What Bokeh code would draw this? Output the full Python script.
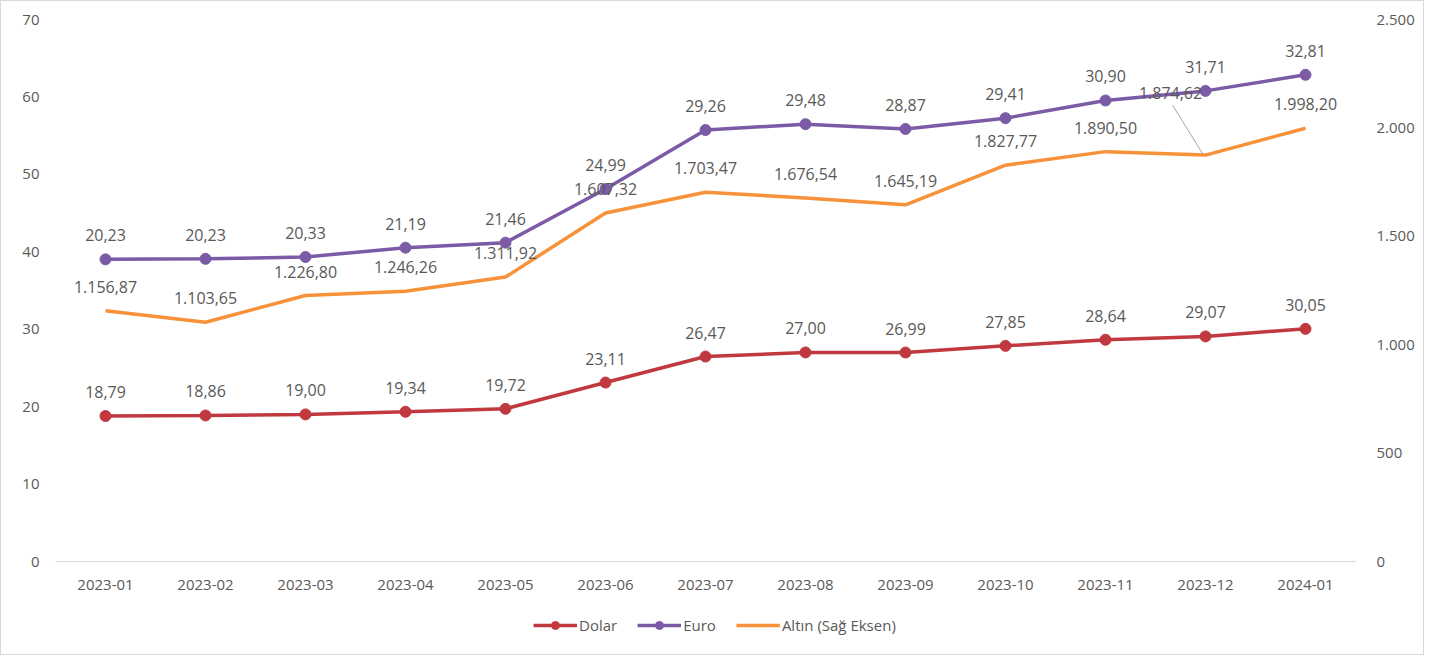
from bokeh.plotting import figure
from bokeh.layouts import column
from bokeh.models import (Range1d, LinearAxis, FixedTicker, ColumnDataSource,
                          Legend, LegendItem)
from bokeh.core.properties import value
from bokeh.embed import file_html
from bokeh.resources import INLINE

# ---------------- data ----------------
categories = ["2023-01", "2023-02", "2023-03", "2023-04", "2023-05", "2023-06",
              "2023-07", "2023-08", "2023-09", "2023-10", "2023-11", "2023-12",
              "2024-01"]
dolar = [18.79, 18.86, 19.00, 19.34, 19.72, 23.11, 26.47, 27.00, 26.99, 27.85,
         28.64, 29.07, 30.05]
euro = [20.23, 20.23, 20.33, 21.19, 21.46, 24.99, 29.26, 29.48, 28.87, 29.41,
        30.90, 31.71, 32.81]
altin = [1156.87, 1103.65, 1226.80, 1246.26, 1311.92, 1607.32, 1703.47,
         1676.54, 1645.19, 1827.77, 1890.50, 1874.62, 1998.20]
left_ticks = [0, 10, 20, 30, 40, 50, 60, 70]
right_ticks = [0, 500, 1000, 1500, 2000, 2500]
series_names = ["Dolar", "Euro", "Altın (Sağ Eksen)"]

# ---------------- style ----------------
RED = "#C0393F"
PURPLE = "#7B5BA6"
ORANGE = "#F7923A"
TXT = "#595959"
FONT = value("Open Sans")

W, H = 1422, 600
LEG_H = 53
ML, MR, MT, MB = 54, 68, 18, 40
FRAME_H = H - MT - MB
FRAME_W = W - ML - MR
PX_PER_CAT = FRAME_W / len(categories)


def tr(v, dec=2):
    s = f"{v:,.{dec}f}"
    return s.replace(",", "X").replace(".", ",").replace("X", ".")


def tr_int(v):
    return f"{int(v):,}".replace(",", ".")


euro_stacked = [d + e for d, e in zip(dolar, euro)]

p = figure(width=W, height=H, x_range=categories, y_range=Range1d(0, 70),
           output_backend="svg", toolbar_location=None,
           min_border_left=ML, min_border_right=MR, min_border_top=MT,
           min_border_bottom=MB, background_fill_color="white",
           border_fill_color="white", outline_line_color=None)
p.extra_y_ranges = {"right": Range1d(0, 2500)}

p.xgrid.visible = False
p.ygrid.visible = False

# left axis
ya = p.yaxis[0]
ya.ticker = FixedTicker(ticks=left_ticks)
ya.axis_line_color = None
ya.major_tick_line_color = None
ya.minor_tick_line_color = None
ya.major_label_text_font = "Open Sans"
ya.major_label_text_font_size = "15px"
ya.major_label_text_color = TXT
ya.major_label_standoff = 10

# right axis
ra = LinearAxis(y_range_name="right", ticker=FixedTicker(ticks=right_ticks))
ra.major_label_overrides = {t: tr_int(t) for t in right_ticks}
ra.axis_line_color = None
ra.major_tick_line_color = None
ra.minor_tick_line_color = None
ra.major_label_text_font = "Open Sans"
ra.major_label_text_font_size = "15px"
ra.major_label_text_color = TXT
ra.major_label_standoff = 15
p.add_layout(ra, "right")

# x axis
xa = p.xaxis[0]
xa.axis_line_color = "#d9d9d9"
xa.axis_line_width = 1
xa.major_tick_line_color = None
xa.minor_tick_line_color = None
xa.major_label_text_font = "Open Sans"
xa.major_label_text_font_size = "15px"
xa.major_label_text_color = TXT
xa.major_label_standoff = 12

# lines
line_kw = dict(line_width=3.5)
gl = p.line(categories, altin, y_range_name="right", line_color=ORANGE,
            **line_kw)
dl = p.line(categories, dolar, line_color=RED, **line_kw)
ds = p.scatter(categories, dolar, size=11, fill_color=RED, line_color=RED)
el = p.line(categories, euro_stacked, line_color=PURPLE, **line_kw)
es = p.scatter(categories, euro_stacked, size=11, fill_color=PURPLE,
               line_color=PURPLE)

# label offsets (screen px)
n = len(categories)
dx_default = [0] * n
dy_default = [-24] * n
gold_dx = list(dx_default)
gold_dy = list(dy_default)
i_moved = categories.index("2023-12")
gold_dx[i_moved] = -35
gold_dy[i_moved] = -62

lbl_kw = dict(text_align="center", text_baseline="middle", text_font=FONT,
              text_font_size="16px", text_color=TXT)

src_d = ColumnDataSource(dict(x=categories, y=dolar, t=[tr(v) for v in dolar],
                              dx=dx_default, dy=dy_default))
src_e = ColumnDataSource(dict(x=categories, y=euro_stacked,
                              t=[tr(v) for v in euro], dx=dx_default,
                              dy=dy_default))
src_g = ColumnDataSource(dict(x=categories, y=altin, t=[tr(v) for v in altin],
                              dx=gold_dx, dy=gold_dy))

# leader line for moved gold label
units_per_px = 2500 / FRAME_H
xc = i_moved + 0.5
p.segment(x0=[xc - 33 / PX_PER_CAT], y0=[altin[i_moved] + 50 * units_per_px],
          x1=[xc - 2 / PX_PER_CAT], y1=[altin[i_moved]], y_range_name="right",
          line_color="#a6a6a6", line_width=1)

p.text(x="x", y="y", text="t", x_offset="dx", y_offset="dy", source=src_d,
       **lbl_kw)
p.text(x="x", y="y", text="t", x_offset="dx", y_offset="dy", source=src_g,
       y_range_name="right", **lbl_kw)
p.text(x="x", y="y", text="t", x_offset="dx", y_offset="dy", source=src_e,
       **lbl_kw)

# ---------------- legend strip ----------------
lf = figure(width=W, height=LEG_H, x_range=Range1d(0, 1), y_range=Range1d(0, 1),
            output_backend="svg", toolbar_location=None, min_border=0,
            outline_line_color=None, background_fill_color="white",
            border_fill_color="white")
lf.axis.visible = False
lf.grid.visible = False
# legend proxies, placed outside the visible range of the strip
px, py = [9], [9]
l_dl = lf.line(px, py, line_color=RED, **line_kw)
l_ds = lf.scatter(px, py, size=11, fill_color=RED, line_color=RED)
l_el = lf.line(px, py, line_color=PURPLE, **line_kw)
l_es = lf.scatter(px, py, size=11, fill_color=PURPLE, line_color=PURPLE)
l_gl = lf.line(px, py, line_color=ORANGE, **line_kw)

legend = Legend(items=[LegendItem(label=series_names[0], renderers=[l_dl, l_ds]),
                       LegendItem(label=series_names[1], renderers=[l_el, l_es]),
                       LegendItem(label=series_names[2], renderers=[l_gl])],
                orientation="horizontal", location=(478, 19),
                background_fill_alpha=0, border_line_color=None,
                label_text_font="Open Sans", label_text_font_size="15px",
                label_text_color=TXT, glyph_width=44, glyph_height=20,
                label_standoff=2, spacing=20, padding=5)
lf.add_layout(legend)

layout = column(p, lf, spacing=0)
layout.styles = {"border": "1px solid #d9d9d9"}

open("out.html", "w").write(file_html(layout, INLINE))
